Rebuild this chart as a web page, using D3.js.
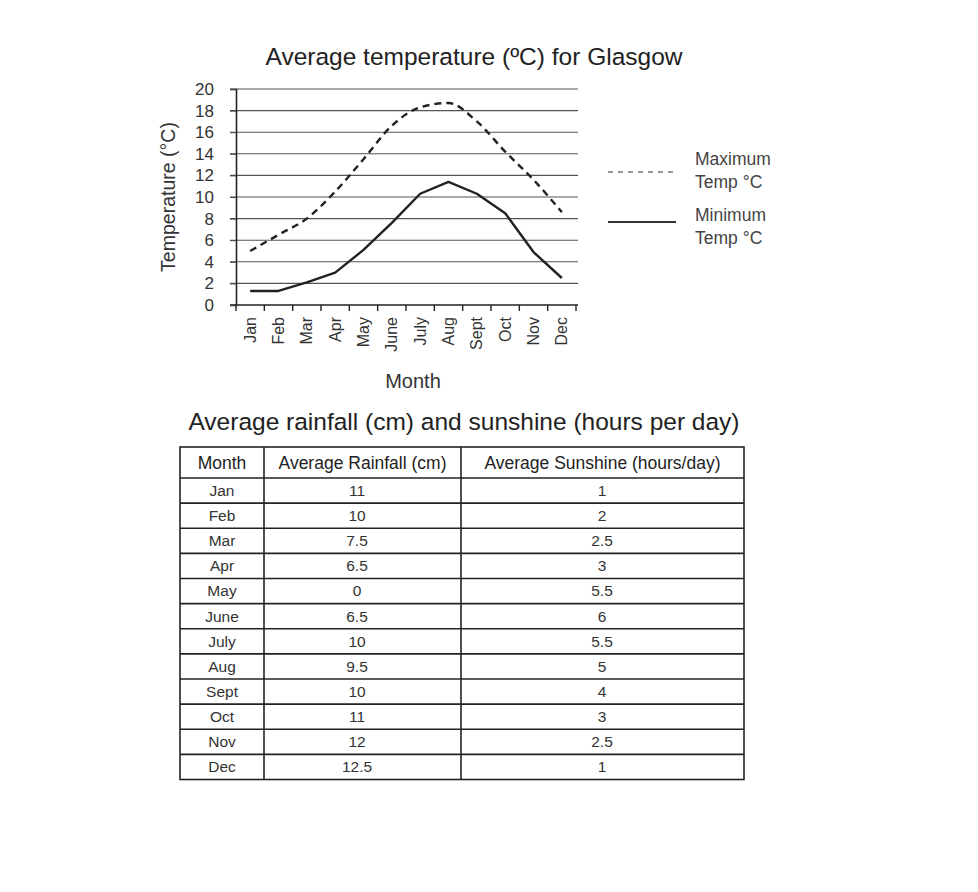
<!DOCTYPE html>
<html><head><meta charset="utf-8">
<script src="https://cdn.jsdelivr.net/npm/d3@7"></script>
<style>body{margin:0;background:#fff;}svg{display:block;}</style>
</head><body>
<svg id="c" width="978" height="892"></svg>
<script>
const months = ["Jan","Feb","Mar","Apr","May","June","July","Aug","Sept","Oct","Nov","Dec"];
const maxTemp = [5, 6.5, 8, 10.5, 13.5, 16.6, 18.3, 18.7, 17, 14.2, 11.6, 8.6];
const minTemp = [1.3, 1.3, 2.1, 3.0, 5.1, 7.6, 10.3, 11.4, 10.3, 8.5, 4.9, 2.5];
const yTicks = [0,2,4,6,8,10,12,14,16,18,20];
const tableMonths = ["Jan","Feb","Mar","Apr","May","June","July","Aug","Sept","Oct","Nov","Dec"];
const rainfall = ["11","10","7.5","6.5","0","6.5","10","9.5","10","11","12","12.5"];
const sunshine = ["1","2","2.5","3","5.5","6","5.5","5","4","3","2.5","1"];
const tableHeaders = ["Month","Average Rainfall (cm)","Average Sunshine (hours/day)"];

const svg = d3.select("#c");
const FONT = "Liberation Sans, Arial, sans-serif";
const ink = "#333";
svg.append("rect").attr("width",978).attr("height",892).attr("fill","#fff");

const x = d3.scaleBand().domain(months).range([236,576]);
const y = d3.scaleLinear().domain([0,20]).range([305,89]);

// title
svg.append("text").attr("x",474).attr("y",65).attr("text-anchor","middle")
  .attr("font-family",FONT).attr("font-size",24.5).attr("fill","#222")
  .text("Average temperature (ºC) for Glasgow");

// gridlines
svg.append("g").selectAll("line").data(yTicks).join("line")
  .attr("x1",230).attr("x2",578).attr("y1",d=>y(d)).attr("y2",d=>y(d))
  .attr("stroke",d=>d===0?"#222":"#555").attr("stroke-width",d=>d===0?1.6:1.1);

// y axis
const ya = svg.append("g").attr("transform","translate(236,0)")
  .call(d3.axisLeft(y).tickValues(yTicks).tickSize(6).tickPadding(16));
ya.select(".domain").attr("stroke","#222").attr("stroke-width",1.6);
ya.selectAll(".tick line").attr("stroke","#444");
ya.selectAll("text").attr("font-family",FONT).attr("font-size",17).attr("fill",ink);

// x boundary ticks
const bounds = months.map(m=>x(m)).concat([x.range()[1]]);
svg.append("g").selectAll("line").data(bounds).join("line")
  .attr("x1",d=>d).attr("x2",d=>d).attr("y1",305).attr("y2",311)
  .attr("stroke","#222").attr("stroke-width",1.4);

// x labels
const xa = svg.append("g").attr("transform","translate(0,305)")
  .call(d3.axisBottom(x).tickSize(0).tickPadding(0));
xa.select(".domain").remove();
xa.selectAll("text").attr("font-family",FONT).attr("font-size",16).attr("fill",ink)
  .attr("text-anchor","end").attr("transform","rotate(-90)")
  .attr("x",-12).attr("y",0).attr("dy","0.35em");

// axis titles
svg.append("text").attr("transform","translate(175,197) rotate(-90)").attr("text-anchor","middle")
  .attr("font-family",FONT).attr("font-size",19.5).attr("fill",ink).text("Temperature (°C)");
svg.append("text").attr("x",413).attr("y",388).attr("text-anchor","middle")
  .attr("font-family",FONT).attr("font-size",20).attr("fill",ink).text("Month");

// lines
const cx = m => x(m) + x.bandwidth()/2;
const lineMax = d3.line().x((d,i)=>cx(months[i])).y(d=>y(d)).curve(d3.curveMonotoneX);
const lineMin = d3.line().x((d,i)=>cx(months[i])).y(d=>y(d));
svg.append("path").datum(maxTemp).attr("d",lineMax).attr("fill","none")
  .attr("stroke","#222").attr("stroke-width",2.4).attr("stroke-dasharray","7,5");
svg.append("path").datum(minTemp).attr("d",lineMin).attr("fill","none")
  .attr("stroke","#222").attr("stroke-width",2.4).attr("stroke-linejoin","round");

// legend
const leg = [{label:["Maximum","Temp °C"],dash:"5,5",ly:172,ty:165},{label:["Minimum","Temp °C"],dash:null,ly:222,ty:221}];
leg.forEach(l=>{
  svg.append("line").attr("x1",608).attr("x2",676).attr("y1",l.ly).attr("y2",l.ly)
    .attr("stroke","#333").attr("stroke-width",l.dash?1.2:2.2).attr("stroke-dasharray",l.dash);
  const t = svg.append("text").attr("x",695).attr("y",l.ty).attr("font-family",FONT)
    .attr("font-size",17.5).attr("fill","#444");
  l.label.forEach((s,i)=>t.append("tspan").attr("x",695).attr("dy",i?23:0).text(s));
});

// table title
svg.append("text").attr("x",464).attr("y",430).attr("text-anchor","middle")
  .attr("font-family",FONT).attr("font-size",24.5).attr("fill","#222")
  .text("Average rainfall (cm) and sunshine (hours per day)");

// table
const colX = [180,264,461,744];
const textX = [222,357,602];
const tTop = 447, headH = 31, tBottom = 779.5;
const rowY = d3.scaleBand().domain(tableMonths).range([tTop+headH, tBottom]);
const tg = svg.append("g");
tg.append("rect").attr("x",colX[0]).attr("y",tTop).attr("width",colX[3]-colX[0]).attr("height",tBottom-tTop)
  .attr("fill","none").attr("stroke","#222").attr("stroke-width",1.6);
tg.selectAll("line.r").data(tableMonths).join("line").attr("class","r")
  .attr("x1",colX[0]).attr("x2",colX[3]).attr("y1",d=>rowY(d)).attr("y2",d=>rowY(d))
  .attr("stroke","#222").attr("stroke-width",1.6);
tg.selectAll("line.c").data([colX[1],colX[2]]).join("line").attr("class","c")
  .attr("x1",d=>d).attr("x2",d=>d).attr("y1",tTop).attr("y2",tBottom)
  .attr("stroke","#222").attr("stroke-width",1.6);
tableHeaders.forEach((h,i)=>{
  tg.append("text").attr("x",(colX[i]+colX[i+1])/2).attr("y",tTop+headH/2).attr("dy","0.35em")
    .attr("text-anchor","middle").attr("font-family",FONT).attr("font-size",17.5).attr("fill","#222").text(h);
});
const cols = [tableMonths, rainfall, sunshine];
cols.forEach((col,ci)=>{
  tg.selectAll("text.c"+ci).data(col).join("text").attr("class","c"+ci)
    .attr("x",textX[ci]).attr("y",(d,i)=>rowY(tableMonths[i])+rowY.bandwidth()/2).attr("dy","0.35em")
    .attr("text-anchor","middle").attr("font-family",FONT).attr("font-size",15.5).attr("fill","#333").text(d=>d);
});
</script>
</body></html>
